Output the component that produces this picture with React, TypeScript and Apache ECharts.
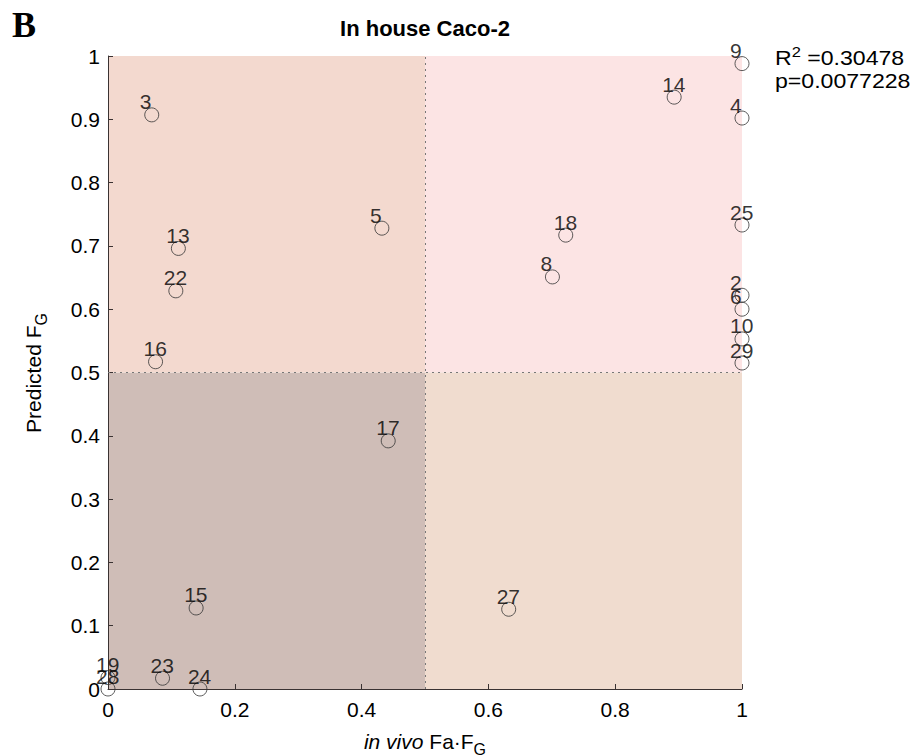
import React, { useEffect, useRef } from "react";
import * as echarts from "echarts";

// Compound numbers and their observed (in vivo Fa·FG) vs predicted FG values
const compoundIds = ["3", "9", "14", "4", "5", "13", "22", "16", "18", "8", "25", "2", "6", "10", "29", "17", "15", "27", "23", "24", "19", "28"];
const observedFaFg = [0.069, 1.0, 0.893, 1.0, 0.432, 0.111, 0.107, 0.075, 0.722, 0.701, 1.0, 1.0, 1.0, 1.0, 1.0, 0.442, 0.139, 0.632, 0.086, 0.145, 0.0, 0.0];
const predictedFg = [0.907, 0.988, 0.935, 0.902, 0.728, 0.696, 0.629, 0.517, 0.717, 0.651, 0.733, 0.622, 0.6, 0.553, 0.515, 0.392, 0.128, 0.126, 0.017, 0.0, 0.018, 0.0];

const axisMin = 0;
const axisMax = 1;
const xTickStep = 0.2;
const yTickStep = 0.1;
const threshold = 0.5;

const statLines = ["0.30478", "p=0.0077228"];

const FONT = "'Liberation Sans', Arial, sans-serif";

const G = { left: 108, top: 56, width: 634, height: 633 };

export default function App() {
  const ref = useRef<HTMLDivElement>(null);

  useEffect(() => {
    if (!ref.current) return;
    const chart = echarts.init(ref.current, null, { renderer: "svg" });

    const points = compoundIds.map((id, i) => [observedFaFg[i], predictedFg[i], id]);

    const quadrant = (x0: number, y0: number, x1: number, y1: number, color: string) => [
      { xAxis: x0, yAxis: y0, itemStyle: { color } },
      { xAxis: x1, yAxis: y1 },
    ];

    const axisCommon = {
      type: "value" as const,
      min: axisMin,
      max: axisMax,
      splitLine: { show: false },
      axisLine: { show: true, lineStyle: { color: "#3a3232", width: 1 } },
      axisTick: { show: true, inside: true, length: 5, lineStyle: { color: "#3a3232" } },
      axisLabel: {
        color: "#000",
        fontFamily: FONT,
        fontSize: 21,
        formatter: (v: number) => String(Math.round(v * 10) / 10),
      },
    };

    chart.setOption({
      animation: false,
      grid: { left: G.left, top: G.top, width: G.width, height: G.height },
      xAxis: { ...axisCommon, interval: xTickStep, axisLabel: { ...axisCommon.axisLabel, margin: 10 } },
      yAxis: { ...axisCommon, interval: yTickStep, axisLabel: { ...axisCommon.axisLabel, margin: 8 } },
      series: [
        {
          type: "scatter",
          data: points,
          clip: false,
          symbol: "circle",
          symbolSize: 14,
          itemStyle: { color: "rgba(0,0,0,0)", borderColor: "#333", borderWidth: 1 },
          label: {
            show: true,
            position: "inside",
            align: "left",
            verticalAlign: "middle",
            offset: [-12, -13],
            color: "#000",
            textBorderWidth: 0,
            fontFamily: FONT,
            fontSize: 21,
            formatter: (p: any) => p.data[2],
          },
          markArea: {
            silent: true,
            z: 0,
            data: [
              quadrant(0, 0, threshold, threshold, "#cfbdb7"),
              quadrant(0, threshold, threshold, 1, "#f3d9cf"),
              quadrant(threshold, threshold, 1, 1, "#fce4e4"),
              quadrant(threshold, 0, 1, threshold, "#f0dccf"),
            ],
          },
          markLine: {
            silent: true,
            symbol: "none",
            label: { show: false },
            lineStyle: { color: "#777", type: [2, 4], width: 1 },
            data: [{ xAxis: threshold }, { yAxis: threshold }],
          },
        },
      ],
      graphic: [
        {
          type: "text",
          left: 12,
          top: 7,
          style: { text: "B", font: "bold 36px 'Liberation Serif', 'Times New Roman', serif", fill: "#000" },
        },
        {
          type: "text",
          x: G.left + G.width / 2,
          y: 28,
          style: {
            text: "In house Caco-2",
            font: `bold 22px ${FONT}`,
            fill: "#000",
            align: "center",
            verticalAlign: "middle",
          },
        },
        {
          type: "text",
          x: 775,
          y: 58,
          scaleX: 1.1,
          style: {
            text: `R{sup|2} =${statLines[0]}`,
            font: `21px ${FONT}`,
            fill: "#000",
            align: "left",
            verticalAlign: "middle",
            rich: {
              sup: { fontSize: 15, fontFamily: FONT, padding: [0, 0, 12, 0] },
            },
          },
        },
        {
          type: "text",
          x: 775,
          y: 81,
          scaleX: 1.1,
          style: { text: statLines[1], font: `21px ${FONT}`, fill: "#000", align: "left", verticalAlign: "middle" },
        },
        {
          type: "text",
          x: G.left + G.width / 2,
          y: 741,
          style: {
            text: "{i|in vivo} Fa·F{sub|G}",
            font: `21px ${FONT}`,
            fill: "#000",
            align: "center",
            verticalAlign: "middle",
            rich: {
              i: { fontStyle: "italic", fontSize: 21, fontFamily: FONT },
              sub: { fontSize: 16, fontFamily: FONT, padding: [16, 0, 0, 0] },
            },
          },
        },
        {
          type: "text",
          x: 33,
          y: 373,
          rotation: Math.PI / 2,
          style: {
            text: "Predicted F{sub|G}",
            font: `21px ${FONT}`,
            fill: "#000",
            align: "center",
            verticalAlign: "middle",
            rich: {
              sub: { fontSize: 16, fontFamily: FONT, padding: [16, 0, 0, 0] },
            },
          },
        },
      ],
    });

    return () => chart.dispose();
  }, []);

  return (
    <div
      ref={ref}
      style={{ position: "fixed", left: 0, top: 0, width: 916, height: 756, background: "#fff" }}
    />
  );
}
